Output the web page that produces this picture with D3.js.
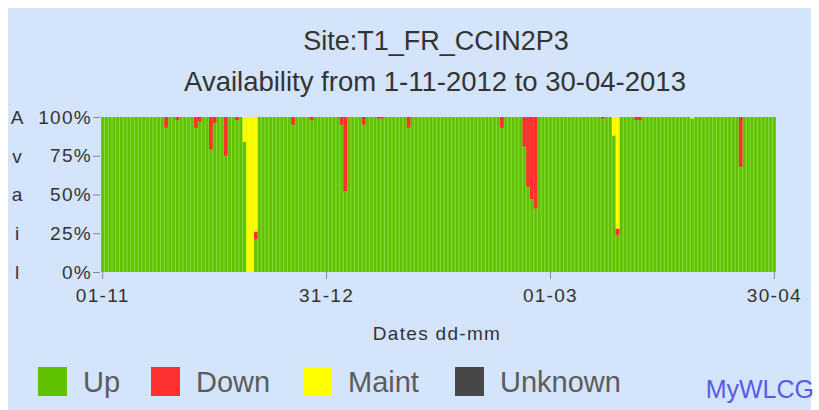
<!DOCTYPE html>
<html><head><meta charset="utf-8">
<script src="https://cdn.jsdelivr.net/npm/d3@7"></script>
<style>body{margin:0;background:#fff}svg{display:block}</style>
</head><body>
<svg id="chart" width="819" height="410"></svg>
<script>
// ---- data ----
const siteName = "Site:T1_FR_CCIN2P3";
const subtitleText = "Availability from 1-11-2012 to 30-04-2013";
const xAxisTitle = "Dates dd-mm";
const startDate = "2012-11-01";
const endDate = "2013-04-30";
const upPct = [
 100,100,100,100,100,100,100,100,100,100,
 100,100,100,100,100,100,100,93,100,100,
 98,100,100,100,100,93,97,100,100,79,
 96,100,100,75,100,100,98,100,84,0,
 0,21,100,100,100,100,100,100,100,100,
 100,95,100,100,100,100,98,100,100,100,
 100,100,100,100,95,52,100,100,100,100,
 95,100,100,100,99,99,100,100,100,100,
 100,100,93,100,100,100,100,100,100,100,
 100,100,100,100,100,100,100,100,100,100,
 100,100,100,100,100,100,100,93,100,100,
 100,100,100,81,55,47,41,100,100,100,
 100,100,100,100,100,100,100,100,100,100,
 100,100,100,100,99,100,100,88,24,100,
 100,100,100,98,98,100,100,100,100,100,
 100,100,100,100,100,100,100,100,99,100,
 100,100,100,100,100,100,100,100,100,100,
 100,68,100,100,100,100,100,100,100,100,
 100];
const downPct = [
 0,0,0,0,0,0,0,0,0,0,
 0,0,0,0,0,0,0,7,0,0,
 2,0,0,0,0,7,3,0,0,21,
 4,0,0,25,0,0,2,0,0,0,
 0,5,0,0,0,0,0,0,0,0,
 0,5,0,0,0,0,2,0,0,0,
 0,0,0,0,5,48,0,0,0,0,
 5,0,0,0,1,1,0,0,0,0,
 0,0,7,0,0,0,0,0,0,0,
 0,0,0,0,0,0,0,0,0,0,
 0,0,0,0,0,0,0,7,0,0,
 0,0,0,19,45,53,59,0,0,0,
 0,0,0,0,0,0,0,0,0,0,
 0,0,0,0,1,0,0,0,4,0,
 0,0,0,2,2,0,0,0,0,0,
 0,0,0,0,0,0,0,0,0,0,
 0,0,0,0,0,0,0,0,0,0,
 0,32,0,0,0,0,0,0,0,0,
 0];
const maintPct = [
 0,0,0,0,0,0,0,0,0,0,
 0,0,0,0,0,0,0,0,0,0,
 0,0,0,0,0,0,0,0,0,0,
 0,0,0,0,0,0,0,0,16,100,
 100,74,0,0,0,0,0,0,0,0,
 0,0,0,0,0,0,0,0,0,0,
 0,0,0,0,0,0,0,0,0,0,
 0,0,0,0,0,0,0,0,0,0,
 0,0,0,0,0,0,0,0,0,0,
 0,0,0,0,0,0,0,0,0,0,
 0,0,0,0,0,0,0,0,0,0,
 0,0,0,0,0,0,0,0,0,0,
 0,0,0,0,0,0,0,0,0,0,
 0,0,0,0,0,0,0,12,72,0,
 0,0,0,0,0,0,0,0,0,0,
 0,0,0,0,0,0,0,0,1,0,
 0,0,0,0,0,0,0,0,0,0,
 0,0,0,0,0,0,0,0,0,0,
 0];
const tickDates = ["2012-11-01","2012-12-31","2013-03-01","2013-04-30"];
const tickLabels = ["01-11","31-12","01-03","30-04"];
const yTicks = [0,25,50,75,100];
const yLetters = ["A","v","a","i","l"];
const legendNames = ["Up","Down","Maint","Unknown"];

// ---- styles ----
const colors = {Up:"#60c100", Down:"#ff3030", Maint:"#ffff00", Unknown:"#474747"};
const FONT = "'Liberation Sans', Arial, Helvetica, sans-serif";

const svg = d3.select("#chart");
const W = 819, H = 410;
const plot = {left:101, right:776, top:117, bottom:272};

svg.append("rect").attr("x",0).attr("y",0).attr("width",W).attr("height",H).attr("fill","#ffffff");
svg.append("rect").attr("x",8).attr("y",8).attr("width",803).attr("height",H-8).attr("fill","#d4e4fa");

// titles
svg.append("text").attr("x",436).attr("y",50).attr("text-anchor","middle")
  .attr("font-family",FONT).attr("font-size",27).attr("fill","#333").text(siteName);
svg.append("text").attr("x",435).attr("y",91).attr("text-anchor","middle")
  .attr("font-family",FONT).attr("font-size",27.5).attr("fill","#333").text(subtitleText);

// days
const parse = d3.utcParse("%Y-%m-%d");
const fmt = d3.utcFormat("%Y-%m-%d");
const days = d3.utcDay.range(parse(startDate), d3.utcDay.offset(parse(endDate),1)).map(fmt);
const rows = days.map((d,i)=>({date:d, up:upPct[i], down:downPct[i], maint:maintPct[i]}));

const x = d3.scaleBand().domain(days).range([plot.left, plot.right]).paddingInner(0.3).paddingOuter(0.1);
const y = d3.scaleLinear().domain([0,100]).range([plot.bottom, plot.top]);

// plot background (light green between bars)
svg.append("rect").attr("x",plot.left).attr("y",plot.top)
  .attr("width",plot.right-plot.left).attr("height",plot.bottom-plot.top).attr("fill","#88da3c");

const series = d3.stack().keys(["up","down","maint"])(rows);
const keyColor = {up:colors.Up, down:colors.Down, maint:colors.Maint};
const barG = svg.append("g");
series.forEach(s => {
  barG.append("g").attr("fill", keyColor[s.key])
    .selectAll("rect").data(s.filter(d => d[1]-d[0] > 0)).join("rect")
    .attr("x", d => s.key === "up" ? x(d.data.date) : x(d.data.date) - x.step()*x.paddingInner()/2)
    .attr("width", d => s.key === "up" ? x.bandwidth() : x.step())
    .attr("y", d => y(d[1]))
    .attr("height", d => y(d[0]) - y(d[1]));
});

const axisFont = 19, axisSpacing = "1.3px";

// y axis
const yAxis = svg.append("g").attr("transform",`translate(${plot.left-1},0)`)
  .call(d3.axisLeft(y).tickValues(yTicks).tickFormat(d=>d+"%").tickSize(7).tickPadding(1));
yAxis.select(".domain").remove();
yAxis.selectAll("line").attr("stroke","#888");
yAxis.selectAll("text").attr("font-family",FONT).attr("font-size",axisFont)
  .attr("letter-spacing",axisSpacing).attr("fill","#333");

svg.append("g").selectAll("text").data(yTicks.slice().reverse()).join("text")
  .attr("x",17).attr("y",d=>y(d)).attr("dy","0.36em").attr("text-anchor","middle")
  .attr("font-family",FONT).attr("font-size",axisFont).attr("fill","#333")
  .text((d,i)=>yLetters[i]);

// x axis
const xTickScale = d => x(d) + x.bandwidth()/2;
const xAxis = svg.append("g").attr("transform",`translate(0,${plot.bottom})`);
xAxis.selectAll("line").data(tickDates).join("line")
  .attr("x1",xTickScale).attr("x2",xTickScale).attr("y1",0).attr("y2",7).attr("stroke","#888");
xAxis.selectAll("text").data(tickDates).join("text")
  .attr("x",xTickScale).attr("y",30).attr("text-anchor","middle")
  .attr("font-family",FONT).attr("font-size",axisFont).attr("letter-spacing",axisSpacing)
  .attr("fill","#333").text((d,i)=>tickLabels[i]);

svg.append("text").attr("x",437).attr("y",340).attr("text-anchor","middle")
  .attr("font-family",FONT).attr("font-size",axisFont).attr("letter-spacing",axisSpacing)
  .attr("fill","#333").text(xAxisTitle);

// legend
const legX = [38,151,303,455];
const leg = svg.append("g");
legendNames.forEach((n,i)=>{
  leg.append("rect").attr("x",legX[i]).attr("y",367).attr("width",29).attr("height",29).attr("fill",colors[n]);
  leg.append("text").attr("x",legX[i]+45).attr("y",392)
    .attr("font-family",FONT).attr("font-size",29).attr("fill","#5c5c5c").text(n);
});
svg.append("text").attr("x",814).attr("y",398).attr("text-anchor","end")
  .attr("font-family",FONT).attr("font-size",25).attr("fill","#5a5ae6").text("MyWLCG");
</script>
</body></html>
